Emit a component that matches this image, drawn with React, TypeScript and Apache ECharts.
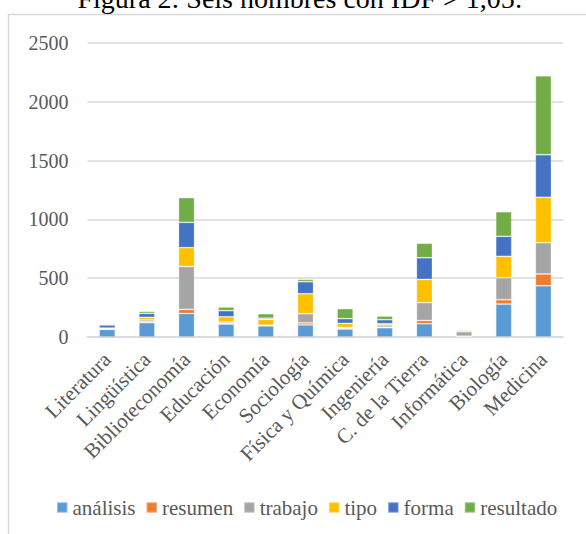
import React, { useEffect, useRef } from "react";
import * as echarts from "echarts";

const categories = [
  "Literatura",
  "Lingüística",
  "Biblioteconomía",
  "Educación",
  "Economía",
  "Sociología",
  "Física y Química",
  "Ingeniería",
  "C. de la Tierra",
  "Informática",
  "Biología",
  "Medicina",
];

const analisis = [65, 122, 200, 110, 95, 103, 68, 79, 113, 5, 280, 436];
const resumen = [2, 8, 35, 5, 2, 17, 4, 5, 28, 2, 37, 100];
const trabajo = [3, 15, 365, 12, 3, 78, 10, 18, 151, 38, 187, 266];
const tipo = [6, 22, 160, 45, 50, 170, 34, 11, 198, 10, 182, 386];
const forma = [26, 34, 215, 52, 10, 102, 40, 34, 184, 8, 170, 362];
const resultado = [8, 17, 210, 31, 38, 20, 85, 31, 123, 2, 209, 671];

const seriesNames = ["análisis", "resumen", "trabajo", "tipo", "forma", "resultado"];
const seriesData = [analisis, resumen, trabajo, tipo, forma, resultado];
const colors = ["#5B9BD5", "#ED7D31", "#A5A5A5", "#FFC000", "#4472C4", "#70AD47"];

const yTicks = [0, 500, 1000, 1500, 2000, 2500];

const FONT = "Liberation Serif, serif";

export default function App() {
  const ref = useRef<HTMLDivElement>(null);

  useEffect(() => {
    if (!ref.current) return;
    const chart = echarts.init(ref.current, undefined, { renderer: "svg" });
    chart.setOption({
      animation: false,
      backgroundColor: "#ffffff",
      color: colors,
      textStyle: { fontFamily: FONT },
      graphic: [
        {
          type: "rect",
          shape: { x: 8.5, y: 14.5, width: 640, height: 600 },
          style: { fill: "none", stroke: "#d9d9d9", lineWidth: 1.5 },
          silent: true,
          z: 0,
        },
        {
          type: "text",
          x: 300,
          y: -2,
          style: {
            text: "Figura 2: Seis nombres con IDF > 1,05:",
            font: `28px ${FONT}`,
            fill: "#000000",
            align: "center",
            verticalAlign: "middle",
            textAlign: "center",
            textVerticalAlign: "middle",
          },
          silent: true,
        },
      ],
      grid: { left: 87.4, top: 43, width: 475.8, height: 294 },
      legend: {
        data: seriesNames,
        left: 51,
        top: 492,
        icon: "rect",
        itemWidth: 10.5,
        itemHeight: 10.5,
        itemGap: 10,
        textStyle: { fontFamily: FONT, fontSize: 21, color: "#595959" },
      },
      xAxis: {
        type: "category",
        data: categories,
        axisTick: { show: false },
        axisLine: { lineStyle: { color: "#d9d9d9", width: 1.5 } },
        axisLabel: {
          interval: 0,
          rotate: 45,
          margin: 19,
          fontFamily: FONT,
          fontSize: 21,
          color: "#595959",
        },
      },
      yAxis: {
        type: "value",
        min: yTicks[0],
        max: yTicks[yTicks.length - 1],
        interval: 500,
        axisLine: { show: false },
        axisTick: { show: false },
        splitLine: { lineStyle: { color: "#d9d9d9", width: 1.5 } },
        axisLabel: {
          margin: 19,
          fontFamily: FONT,
          fontSize: 20,
          color: "#595959",
          formatter: (v: number) => String(v),
        },
      },
      series: seriesNames.map((name, i) => ({
        name,
        type: "bar",
        stack: "total",
        barWidth: 16,
        data: seriesData[i],
        itemStyle: { color: colors[i], borderColor: "rgba(255,255,255,0.35)", borderWidth: 0.8 },
      })),
    });
    return () => chart.dispose();
  }, []);

  return (
    <div
      ref={ref}
      style={{ position: "fixed", left: 0, top: 0, width: 586, height: 534 }}
    />
  );
}
